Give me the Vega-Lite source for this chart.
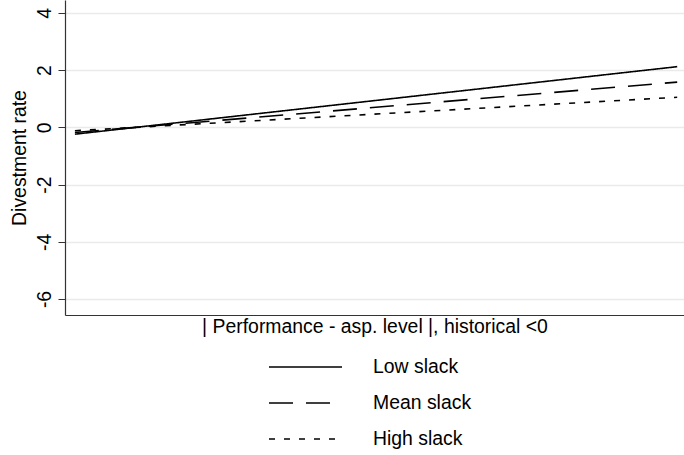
{
  "$schema": "https://vega.github.io/schema/vega-lite/v6.json",
  "width": 619,
  "height": 315,
  "autosize": {"type": "none"},
  "padding": {"left": 65, "top": 0, "right": 0, "bottom": 140},
  "background": "white",
  "config": {
    "font": "Liberation Sans",
    "view": {"stroke": null}
  },
  "data": {
    "values": [
      {"x": 0.016, "y": -0.24, "series": "Low slack"},
      {"x": 0.989, "y": 2.12, "series": "Low slack"},
      {"x": 0.016, "y": -0.18, "series": "Mean slack"},
      {"x": 0.989, "y": 1.58, "series": "Mean slack"},
      {"x": 0.016, "y": -0.12, "series": "High slack"},
      {"x": 0.989, "y": 1.05, "series": "High slack"}
    ]
  },
  "mark": {"type": "line", "color": "black", "strokeWidth": 1.6},
  "encoding": {
    "x": {
      "field": "x",
      "type": "quantitative",
      "scale": {"domain": [0, 1], "nice": false, "zero": false},
      "axis": {
        "title": "| Performance - asp. level |, historical <0",
        "titleFont": "Liberation Sans",
        "titleFontSize": 19.4,
        "titleFontWeight": "normal",
        "titleColor": "black",
        "titlePadding": 2,
        "labels": false,
        "ticks": false,
        "grid": false,
        "domainColor": "#333",
        "domainWidth": 1.2
      }
    },
    "y": {
      "field": "y",
      "type": "quantitative",
      "scale": {"domain": [-6.56, 4.45], "nice": false, "zero": false},
      "axis": {
        "title": "Divestment rate",
        "titleFont": "Liberation Sans",
        "titleFontSize": 19.4,
        "titleFontWeight": "normal",
        "titleColor": "black",
        "titlePadding": 5,
        "values": [-6, -4, -2, 0, 2, 4],
        "labelExpr": "datum.value + ''",
        "labelAngle": -90,
        "labelAlign": "center",
        "labelBaseline": "bottom",
        "labelFontSize": 19.4,
        "labelColor": "black",
        "labelPadding": 4,
        "tickColor": "#333",
        "tickSize": 7,
        "grid": true,
        "gridColor": "#eaeaea",
        "gridWidth": 1.5,
        "domainColor": "#333",
        "domainWidth": 1.2
      }
    },
    "strokeDash": {
      "field": "series",
      "type": "nominal",
      "sort": ["Low slack", "Mean slack", "High slack"],
      "scale": {"domain": ["Low slack", "Mean slack", "High slack"], "range": [[1, 0], [24, 13], [6, 9]]},
      "legend": {
        "title": null,
        "orient": "none",
        "legendX": 203,
        "legendY": 357,
        "direction": "vertical",
        "symbolType": "stroke",
        "symbolSize": 5329,
        "symbolStrokeColor": "black",
        "symbolStrokeWidth": 1.6,
        "clipHeight": 20,
        "rowPadding": 16,
        "labelFontSize": 19.4,
        "labelFont": "Liberation Sans",
        "labelColor": "black",
        "labelOffset": 30
      }
    }
  }
}
